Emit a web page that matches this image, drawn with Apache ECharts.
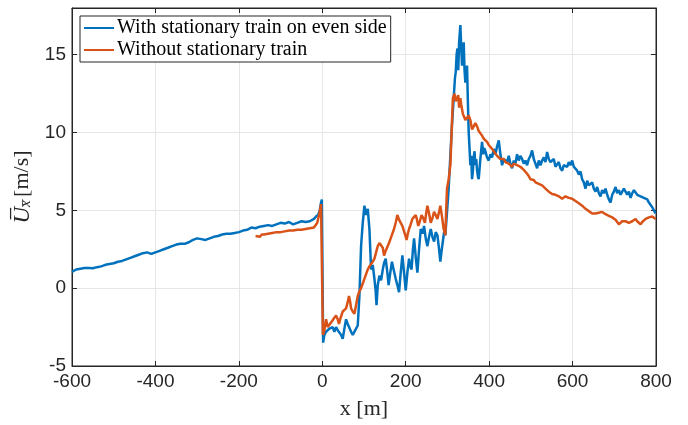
<!DOCTYPE html>
<html>
<head>
<meta charset="utf-8">
<script src="https://cdn.jsdelivr.net/npm/echarts@6/dist/echarts.min.js"></script>
<style>
  html, body { margin: 0; padding: 0; background: #fff; }
  #container { width: 688px; height: 425px; }
</style>
</head>
<body>
<div id="container"></div>
<script>
// x positions [m] and mean velocity [m/s]
var xBlue = [-600,-590,-580,-570,-560,-550,-540,-530,-520,-510,-500,-490,-480,-470,-460,-450,-440,-430,-420,-410,
  -400,-390,-380,-370,-360,-350,-340,-330,-320,-310,-300,-290,-280,-270,-260,-250,-240,-230,-220,-210,
  -200,-190,-180,-170,-160,-150,-140,-130,-120,-110,-100,-90,-80,-70,-60,-50,-40,-30,-20,-15,-10,-6,-3,-1,
  2,5,9,13,17,21,25,29,33,37,41,45,49,53,57,61,65,69,73,77,81,85,89,93,97,101,105,109,113,117,121,125,128,130,
  133,137,141,145,148,152,156,159,163,167,171,176,180,184,188,192,196,200,204,208,211,214,217,220,224,228,
  232,236,240,244,248,252,256,260,264,268,272,276,280,283,286,289,292,295,299,303,307,311,315,318,320,322,
  324,326,328,331,333,335,337,339,341,343,345,347,349,351,353,355,357,359,361,363,365,367,369,371,373,375,
  378,380,383,386,388,391,395,399,403,407,411,415,419,423,427,431,435,439,443,447,451,455,459,463,467,471,
  475,479,483,487,491,495,499,503,507,511,515,519,523,527,531,535,539,543,547,551,555,559,563,567,571,575,
  579,583,587,591,595,599,603,607,611,615,619,623,627,631,635,639,643,647,651,655,659,663,667,671,675,679,
  683,687,691,695,699,703,707,711,715,719,723,727,731,735,739,743,747,751,755,759,763,767,771,775,779,783,
  787,791,795,799];
var yBlue = [1.05,1.2,1.25,1.3,1.3,1.28,1.35,1.4,1.5,1.55,1.6,1.7,1.75,1.85,1.95,2.05,2.15,2.25,2.3,2.2,
  2.3,2.4,2.5,2.6,2.7,2.8,2.85,2.85,2.95,3.1,3.2,3.15,3.1,3.2,3.3,3.35,3.45,3.5,3.5,3.55,
  3.6,3.7,3.75,3.9,3.85,3.95,4.0,4.05,4.0,4.1,4.2,4.15,4.25,4.1,4.2,4.3,4.25,4.3,4.45,4.6,4.7,5.0,5.5,5.7,
  -3.5,-3.0,-2.8,-2.9,-2.6,-2.7,-2.5,-2.8,-2.5,-2.7,-2.7,-3.0,-3.25,-2.6,-2.0,-2.3,-2.4,-2.8,-3.0,-3.1,-2.6,-2.4,-0.5,2.7,4.2,5.3,4.7,5.1,3.8,1.2,1.5,0.6,-0.2,-1.1,
  0.2,0.8,0.5,1.2,1.6,1.9,1.0,0.2,1.0,1.7,1.2,0.6,0.2,-0.26,1.0,2.1,1.0,-0.15,1.0,1.9,1.4,1.2,2.4,3.2,2.0,1.0,
  2.5,3.8,3.5,4.0,3.2,2.7,3.3,3.8,3.3,3.0,3.6,3.4,2.5,1.7,2.4,3.0,3.6,3.4,4.9,6.4,8.5,10.5,12.2,13.5,13.9,15.0,
  15.4,14.0,15.8,16.9,15.5,14.3,15.0,15.8,14.0,13.2,13.8,14.3,12.0,10.0,9.0,7.9,8.5,7.0,7.5,8.4,8.8,7.9,8.3,7.6,7.2,7.0,
  8.0,8.6,9.4,8.6,9.0,8.8,8.4,8.2,8.6,8.4,8.95,8.6,9.1,9.5,8.6,7.9,8.3,8.4,8.1,8.5,8.0,7.7,8.2,8.0,8.6,8.2,
  8.5,8.3,8.0,8.2,7.9,8.3,8.5,8.85,8.3,8.0,7.7,8.2,7.9,8.2,8.4,8.1,8.75,8.3,8.1,8.0,8.3,7.8,7.9,8.1,7.7,7.55,
  7.9,8.0,7.8,8.1,7.9,8.2,7.8,7.9,7.55,7.3,7.5,7.0,6.8,6.4,6.9,6.6,6.5,6.8,6.4,6.2,6.5,6.1,5.9,6.3,6.1,6.4,
  6.0,5.7,5.5,6.0,6.2,6.5,6.1,6.3,6.0,6.2,6.4,6.3,6.0,6.2,5.8,6.1,6.3,6.4,6.0,6.1,5.9,6.0,5.8,5.8,5.7,5.5,
  5.4,5.2,5.0,4.8];

var xOrange = [-160,-150,-145,-140,-130,-120,-110,-100,-90,-80,-70,-60,-50,-40,-30,-20,-12,-7,-3,-1,
  1.5,5,9,13,17,21,25,29,33,37,40,44,49,53,57,61,64,67,69,73,77,81,85,89,93,97,101,105,109,113,117,121,125,129,
  133,137,141,145,148,152,156,160,164,168,172,176,180,184,188,192,196,199,202,205,208,212,216,220,224,227,
  230,234,238,242,246,249,252,256,260,264,268,272,276,280,283,287,291,295,297,299,303,307,310,313,317,320,
  323,326,328,331,333,335,337,339,343,347,351,355,359,363,367,371,375,379,383,387,391,395,399,403,407,411,
  415,419,423,427,431,435,439,443,447,451,455,459,463,467,471,475,479,483,487,491,495,499,503,507,511,515,
  519,523,527,531,535,539,543,547,551,555,559,563,567,571,575,579,583,587,591,595,599,603,607,611,615,619,
  623,627,631,635,639,643,647,651,655,659,663,667,671,675,679,683,687,691,695,699,703,707,711,715,719,723,
  727,731,735,739,743,747,751,755,759,763,767,771,775,779,783,787,791,795,799];
var yOrange = [3.35,3.3,3.45,3.45,3.5,3.55,3.6,3.6,3.65,3.7,3.7,3.75,3.75,3.8,3.85,3.9,4.2,4.8,5.4,5.5,
  -3.0,-2.7,-2.0,-2.5,-2.4,-2.2,-2.1,-1.9,-1.75,-2.0,-2.3,-1.9,-1.5,-1.4,-1.3,-0.9,-0.5,-0.9,-1.3,-1.5,-1.65,-1.1,-0.5,-0.2,0.0,0.3,0.6,0.9,1.2,1.4,1.5,1.7,1.9,2.3,
  2.7,2.9,3.0,2.6,2.1,2.4,2.5,2.9,3.2,3.5,3.8,4.2,4.7,4.4,4.2,4.0,3.9,3.4,3.1,3.5,3.8,4.1,4.45,4.5,4.7,4.4,
  4.0,4.3,4.7,4.5,4.2,4.8,5.3,4.8,4.2,4.5,4.9,4.7,4.45,4.9,5.3,4.6,3.8,3.4,5.0,6.4,7.0,7.9,10.0,12.2,12.5,12.0,
  11.9,12.4,11.6,12.2,11.8,11.5,11.2,11.1,10.8,10.7,11.1,10.8,10.2,10.4,10.6,10.4,10.1,10.0,9.8,9.6,9.5,9.4,9.2,9.1,8.95,8.8,
  8.7,8.5,8.4,8.3,8.2,8.3,8.1,8.2,8.0,7.9,7.8,8.0,7.9,7.9,8.0,7.8,7.8,7.6,7.5,7.35,7.2,7.0,6.9,6.95,6.8,6.8,
  6.7,6.7,6.6,6.5,6.4,6.3,6.2,6.1,6.05,6.1,6.0,5.95,5.9,5.8,5.75,5.8,5.9,5.85,5.8,5.7,5.75,5.65,5.6,5.5,5.45,5.4,
  5.3,5.2,5.1,5.0,4.95,4.85,4.8,4.75,4.8,4.8,4.85,4.9,4.9,4.8,4.75,4.7,4.65,4.6,4.55,4.55,4.4,4.25,4.1,4.2,4.3,4.35,
  4.3,4.25,4.2,4.2,4.3,4.4,4.45,4.3,4.2,4.1,4.25,4.35,4.45,4.5,4.55,4.65,4.6,4.5,4.45];

var xTicks = [-600, 800, 200];
var yTicks = [-5, 18, 5];

function pairs(xs, ys) {
    var out = [];
    for (var i = 0; i < xs.length; i++) out.push([xs[i], ys[i]]);
    return out;
}

var axisCol = '#262626';
var gridCol = '#e6e6e6';
var sans = 'Liberation Sans';
var serif = 'Liberation Serif';

var dom = document.getElementById("container");
var myChart = echarts.init(dom, null, { renderer: 'canvas' });
var option = {
    animation: false,
    backgroundColor: '#fff',
    grid: { left: 72, right: 32, top: 8, bottom: 58, show: true, borderColor: axisCol, borderWidth: 1 },
    legend: {
        left: 80, top: 16, orient: 'vertical',
        backgroundColor: '#fff', borderColor: axisCol, borderWidth: 1,
        padding: [2, 4, 2, 4], itemGap: 2,
        itemWidth: 30, itemHeight: 2, icon: 'rect',
        textStyle: { fontFamily: serif, fontSize: 20, color: '#000', padding: [0, 0, 0, -2] },
        data: ['With stationary train on even side', 'Without stationary train']
    },
    xAxis: [{
        type: 'value', min: xTicks[0], max: xTicks[1], interval: xTicks[2],
        name: 'x [m]', nameLocation: 'middle', nameGap: 32,
        nameTextStyle: { fontFamily: serif, fontSize: 22, color: axisCol },
        axisLine: { onZero: false, lineStyle: { color: axisCol } },
        axisTick: { inside: true, length: 5, lineStyle: { color: axisCol } },
        axisLabel: { fontFamily: sans, fontSize: 19, color: axisCol, margin: 6 },
        splitLine: { show: true, lineStyle: { color: gridCol } }
    }, {
        type: 'value', position: 'top', min: xTicks[0], max: xTicks[1], interval: xTicks[2],
        axisLine: { onZero: false, lineStyle: { color: axisCol } },
        axisTick: { inside: true, length: 5, lineStyle: { color: axisCol } },
        axisLabel: { show: false }, splitLine: { show: false }
    }],
    yAxis: [{
        type: 'value', min: yTicks[0], max: yTicks[1], interval: yTicks[2],
        name: '{u|U\u0305}{s|x\u0305} {n|[m/s]}', nameLocation: 'middle', nameGap: 34,
        nameTextStyle: {
            color: axisCol,
            rich: {
                u: { fontFamily: serif, fontSize: 23, fontStyle: 'italic', color: axisCol },
                s: { fontFamily: serif, fontSize: 15, fontStyle: 'italic', color: axisCol, verticalAlign: 'bottom' },
                n: { fontFamily: serif, fontSize: 22, color: axisCol }
            }
        },
        axisLine: { onZero: false, lineStyle: { color: axisCol } },
        axisTick: { inside: true, length: 5, lineStyle: { color: axisCol } },
        axisLabel: {
            fontFamily: sans, fontSize: 19, color: axisCol, margin: 6,
            formatter: function (v) { return v % 5 === 0 ? String(v) : ''; }
        },
        splitLine: { show: true, lineStyle: { color: gridCol } }
    }, {
        type: 'value', position: 'right', min: yTicks[0], max: yTicks[1], interval: yTicks[2],
        axisLine: { onZero: false, lineStyle: { color: axisCol } },
        axisTick: { inside: true, length: 5, lineStyle: { color: axisCol } },
        axisLabel: { show: false }, splitLine: { show: false }
    }],
    series: [{
        name: 'With stationary train on even side', type: 'line',
        xAxisIndex: 0, yAxisIndex: 0,
        data: pairs(xBlue, yBlue), showSymbol: false, symbol: 'none',
        lineStyle: { color: '#0072BD', width: 2.5 }, itemStyle: { color: '#0072BD' }
    }, {
        name: 'Without stationary train', type: 'line',
        xAxisIndex: 0, yAxisIndex: 0,
        data: pairs(xOrange, yOrange), showSymbol: false, symbol: 'none',
        lineStyle: { color: '#D95319', width: 2.5 }, itemStyle: { color: '#D95319' }
    }]
};
myChart.setOption(option);
</script>
</body>
</html>
